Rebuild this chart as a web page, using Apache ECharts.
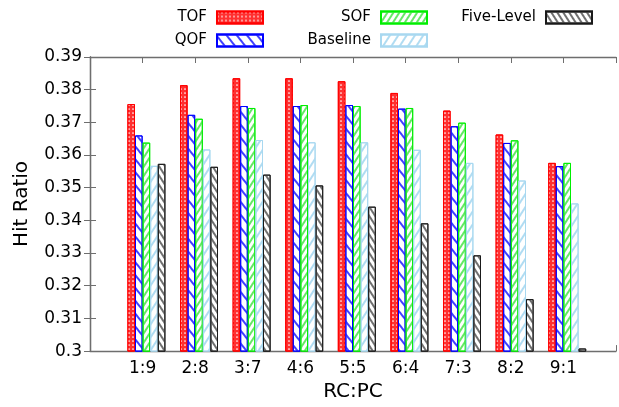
<!DOCTYPE html>
<html>
<head>
<meta charset="utf-8">
<script src="https://cdn.jsdelivr.net/npm/echarts@6/dist/echarts.min.js"></script>
<style>
  html, body { margin: 0; padding: 0; background: #fff; }
  #chart { width: 619px; height: 407px; }
</style>
</head>
<body>
<div id="chart"></div>
<script>
// RC:PC ratios on the horizontal axis
const categories = ['1:9', '2:8', '3:7', '4:6', '5:5', '6:4', '7:3', '8:2', '9:1'];

// Hit ratio per scheme
const tof       = [0.3756, 0.3814, 0.3835, 0.3835, 0.3826, 0.3790, 0.3736, 0.3663, 0.3576];
const qof       = [0.3660, 0.3723, 0.3750, 0.3750, 0.3753, 0.3742, 0.3688, 0.3637, 0.3566];
const sof       = [0.3638, 0.3711, 0.3744, 0.3753, 0.3750, 0.3744, 0.3699, 0.3645, 0.3576];
const baseline  = [0.3567, 0.3617, 0.3646, 0.3639, 0.3639, 0.3616, 0.3576, 0.3522, 0.3452];
const fiveLevel = [0.3573, 0.3564, 0.3540, 0.3507, 0.3442, 0.3391, 0.3293, 0.3159, 0.3008];

const yMin = 0.30, yMax = 0.39, yStep = 0.01;

const FONT = 'DejaVu Sans';
const AXIS_COLOR = '#6e6e6e';
const BAR_W = 7.6;

const chart = echarts.init(document.getElementById('chart'), null, { renderer: 'canvas' });

function points(values) {
  return values.map((v, i) => [i + 1, v]);
}

// diagonal hatching: positive angle leans "\", negative leans "/"
function hatch(color, gap, angle, width) {
  return {
    symbol: 'rect',
    symbolSize: 1,
    color: color,
    dashArrayX: [1, 0],
    dashArrayY: [width, gap],
    rotation: angle
  };
}

const schemes = [
  { name: 'TOF', data: tof, fill: '#ff3030', border: '#ff0000',
    decal: { symbol: 'circle', symbolSize: 0.85, color: '#ffffff', dashArrayX: [2, 1.6], dashArrayY: [2, 1.6] } },
  { name: 'QOF', data: qof, fill: '#ffffff', border: '#0000ff', decal: hatch('#4040ff', 6, 0.9, 1.5) },
  { name: 'SOF', data: sof, fill: '#ffffff', border: '#00ee00', decal: hatch('#66e866', 2.6, -1.0, 1.1) },
  { name: 'Baseline', data: baseline, fill: '#ffffff', border: '#a8d8f0', decal: hatch('#b0dcf2', 4.5, -1.0, 1.5) },
  { name: 'Five-Level', data: fiveLevel, fill: '#ffffff', border: '#1a1a1a', decal: hatch('#707070', 2.3, 1.0, 1.1) }
];

// an empty leading slot keeps each cluster's gap on its left side
const series = [{
  name: 'slot',
  type: 'bar',
  barWidth: BAR_W,
  barGap: '0%',
  data: categories.map((c, i) => [i + 1, null]),
  silent: true
}].concat(schemes.map(s => ({
  name: s.name,
  type: 'bar',
  barWidth: BAR_W,
  barGap: '0%',
  data: points(s.data),
  itemStyle: { color: s.fill, borderColor: s.border, borderWidth: 1, decal: s.decal },
  emphasis: { disabled: true }
})));

// legend keys: text to the left of each swatch
const legendPlacement = [
  { name: 'TOF', right: 355, top: 10 },
  { name: 'QOF', right: 355, top: 33 },
  { name: 'SOF', right: 191, top: 10 },
  { name: 'Baseline', right: 191, top: 33 },
  { name: 'Five-Level', right: 26, top: 10 }
];
const legends = legendPlacement.map(p => ({
  data: [p.name],
  right: p.right,
  top: p.top,
  padding: 0,
  align: 'right',
  icon: 'rect',
  itemWidth: 46,
  itemHeight: 12,
  selectedMode: false,
  textStyle: { fontFamily: FONT, fontSize: 15, color: '#000', lineHeight: 12, padding: [0, 5, 0, 0] }
}));

const tickStyle = { show: true, inside: true, length: 6, lineStyle: { color: AXIS_COLOR, width: 1 } };
const lineStyle = { show: true, lineStyle: { color: AXIS_COLOR, width: 1.3 } };

chart.setOption({
  animation: false,
  backgroundColor: '#ffffff',
  legend: legends,
  grid: { left: 90, top: 57, width: 530, height: 296, containLabel: false },
  xAxis: [
    {
      type: 'value', min: 0, max: 10, interval: 1, position: 'bottom',
      axisLine: lineStyle, axisTick: tickStyle, splitLine: { show: false },
      axisLabel: {
        fontFamily: FONT, fontSize: 17, color: '#000', margin: 9,
        formatter: v => categories[v - 1] || ''
      },
      name: 'RC:PC', nameLocation: 'middle', nameGap: 29,
      nameTextStyle: { fontFamily: FONT, fontSize: 20, color: '#000' }
    },
    {
      type: 'value', min: 0, max: 10, interval: 1, position: 'top',
      axisLine: lineStyle, axisTick: tickStyle, splitLine: { show: false },
      axisLabel: { show: false }
    }
  ],
  yAxis: [
    {
      type: 'value', min: yMin, max: yMax, interval: yStep, position: 'left',
      axisLine: lineStyle, axisTick: tickStyle, splitLine: { show: false },
      axisLabel: {
        fontFamily: FONT, fontSize: 17, color: '#000', margin: 8,
        formatter: v => String(Math.round(v * 100) / 100)
      },
      name: 'Hit Ratio', nameLocation: 'middle', nameGap: 58,
      nameTextStyle: { fontFamily: FONT, fontSize: 20, color: '#000' }
    },
    {
      type: 'value', min: yMin, max: yMax, interval: yStep, position: 'right',
      axisLine: lineStyle, axisTick: tickStyle, splitLine: { show: false },
      axisLabel: { show: false }
    }
  ],
  series: series
});
</script>
</body>
</html>
